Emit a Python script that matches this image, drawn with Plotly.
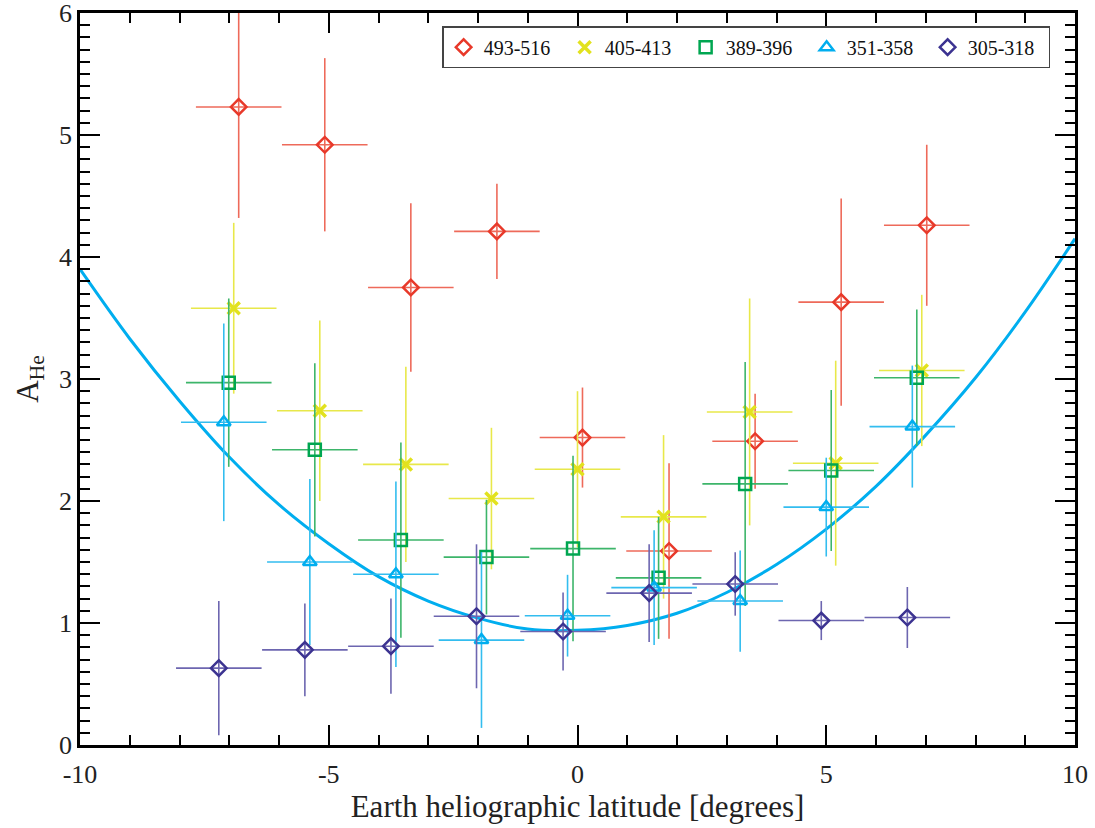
import plotly.graph_objects as go

# ---- data ----
xerr_half = 0.86

red_x = [-6.81, -5.08, -3.35, -1.62, 0.10, 1.84, 3.57, 5.30, 7.02]
red_y = [5.23, 4.92, 3.75, 4.21, 2.52, 1.59, 2.49, 3.63, 4.26]
red_e = [0.91, 0.71, 0.69, 0.39, 0.41, 0.72, 0.39, 0.85, 0.66]

yel_x = [-6.91, -5.18, -3.45, -1.73, 0.00, 1.73, 3.46, 5.19, 6.92]
yel_y = [3.58, 2.74, 2.30, 2.02, 2.26, 1.87, 2.73, 2.31, 3.07]
yel_e = [0.70, 0.74, 0.80, 0.58, 0.64, 0.67, 0.93, 0.84, 0.62]

grn_x = [-7.01, -5.28, -3.55, -1.83, -0.09, 1.63, 3.37, 5.10, 6.82]
grn_y = [2.97, 2.42, 1.68, 1.54, 1.61, 1.37, 2.14, 2.25, 3.01]
grn_e = [0.69, 0.71, 0.80, 0.47, 0.76, 0.50, 1.00, 0.66, 0.56]

cyn_x = [-7.11, -5.38, -3.65, -1.93, -0.20, 1.54, 3.27, 5.00, 6.73]
cyn_y = [2.645, 1.50, 1.40, 0.86, 1.06, 1.29, 1.18, 1.95, 2.61]
cyn_e = [0.81, 0.68, 0.76, 0.72, 0.335, 0.47, 0.415, 0.405, 0.50]

pur_x = [-7.21, -5.48, -3.75, -2.03, -0.29, 1.44, 3.17, 4.90, 6.63]
pur_y = [0.63, 0.78, 0.81, 1.055, 0.93, 1.245, 1.32, 1.02, 1.045]
pur_e = [0.55, 0.38, 0.39, 0.59, 0.32, 0.40, 0.26, 0.16, 0.25]

fit_x = [-10, -9, -8, -7, -6, -5, -4, -3, -2, -1, 0, 1, 2, 3, 4, 5, 6, 7, 8, 9, 10]
fit_y = [3.90, 3.33, 2.82, 2.36, 1.97, 1.65, 1.38, 1.18, 1.04, 0.95, 0.94, 0.98,
         1.08, 1.25, 1.48, 1.77, 2.12, 2.54, 3.01, 3.55, 4.15]

x_ticks = [-10, -5, 0, 5, 10]
x_ticktext = ["-10", "-5", "0", "5", "10"]
y_ticks = [0, 1, 2, 3, 4, 5, 6]

series = [
    ("493-516", red_x, red_y, red_e, "#E8392A", "#EE6a5a", "diamond-open", 12),
    ("405-413", yel_x, yel_y, yel_e, "#E2E21E", "#E8E84A", "x-thin-open", 12),
    ("389-396", grn_x, grn_y, grn_e, "#00A651", "#3DB56A", "square-open", 12),
    ("351-358", cyn_x, cyn_y, cyn_e, "#00AEEF", "#33BDEF", "triangle-up-open", 12),
    ("305-318", pur_x, pur_y, pur_e, "#3C3391", "#6D66B0", "diamond-open", 12),
]

fig = go.Figure()

fig.add_trace(go.Scatter(
    x=fit_x, y=fit_y, mode="lines", line=dict(color="#00AEEF", width=3, shape="spline"),
    showlegend=False, hoverinfo="skip"))

for name, xs, ys, es, col, ecol, sym, sz in series:
    fig.add_trace(go.Scatter(
        x=xs, y=ys, mode="markers", name=name,
        marker=dict(symbol=sym, size=sz, color=col,
                    line=dict(color=col, width=2.5 if sym != "x-thin-open" else 3.5)),
        error_x=dict(type="constant", value=xerr_half, color=ecol, thickness=1.6, width=0),
        error_y=dict(type="data", array=es, color=ecol, thickness=1.6, width=0),
    ))

font_family = "Liberation Serif, Times New Roman, serif"

fig.update_layout(
    width=1095, height=828,
    margin=dict(l=80, r=20, t=13, b=83),
    paper_bgcolor="white", plot_bgcolor="white",
    font=dict(family=font_family, size=26, color="#222"),
    legend=dict(orientation="h", x=0.975, xanchor="right", y=0.982, yanchor="top",
                bgcolor="white", bordercolor="#444", borderwidth=1.5,
                font=dict(size=20, family=font_family, color="#111"),
                itemwidth=30, entrywidth=76, traceorder="normal"),
)

fig.update_xaxes(
    range=[-10, 10], tickmode="array", tickvals=x_ticks, ticktext=x_ticktext,
    ticks="inside", ticklen=20, tickwidth=2, tickcolor="black",
    minor=dict(dtick=1, ticks="inside", ticklen=10, tickwidth=2, tickcolor="black"),
    showline=True, linecolor="black", linewidth=2.5, mirror="ticks",
    showgrid=False, zeroline=False, automargin=False, ticklabeloverflow="allow",
    ticklabelstandoff=4,
    title=dict(text="Earth heliographic latitude [degrees]", standoff=8),
    tickfont=dict(size=26),
)
fig.update_yaxes(
    range=[0, 6], tickmode="array", tickvals=y_ticks,
    ticks="inside", ticklen=20, tickwidth=2, tickcolor="black",
    minor=dict(dtick=0.1, ticks="inside", ticklen=10, tickwidth=2, tickcolor="black"),
    showline=True, linecolor="black", linewidth=2.5, mirror="ticks",
    showgrid=False, zeroline=False, automargin=False, ticklabeloverflow="allow",
    title=dict(text="A<sub>He</sub>", standoff=12),
    tickfont=dict(size=26),
)

fig.write_html("out.html", config={"displayModeBar": False},
               post_script="document.body.style.margin='0';document.body.style.padding='0';")
